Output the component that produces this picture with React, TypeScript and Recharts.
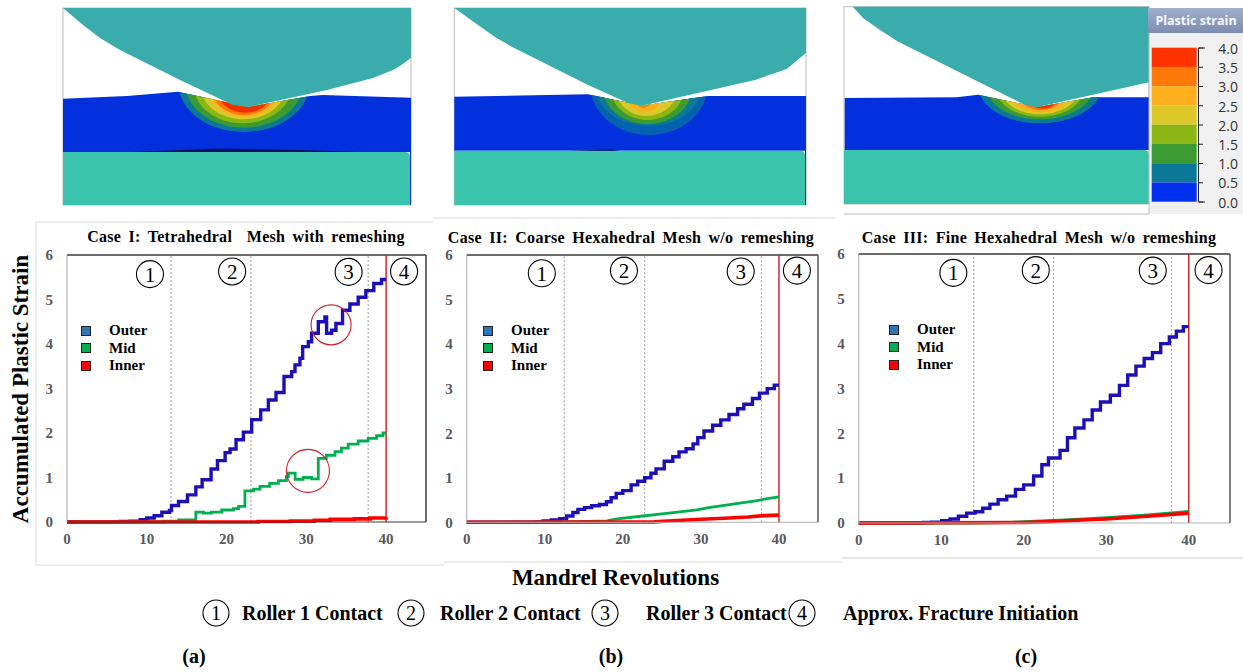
import { LineChart, Line, XAxis, YAxis, ReferenceLine, ReferenceDot, Legend } from "recharts";

const xTicks = [0, 10, 20, 30, 40];
const yTicks = [0, 1, 2, 3, 4, 5, 6];
const seriesNames = ["Outer", "Mid", "Inner"];
const lineColors = ["#1c0fb8", "#00b050", "#fe0000"];
const lineWidths = [3.4, 2.8, 3.6];
const swatchColors = ["#2e75b6", "#00b050", "#ff0000"];
const circleLabels = ["1", "2", "3", "4"];

// case I
const outerAX = [0, 6.67, 7.93, 9.18, 10, 10.93, 11.89, 12.85, 13.1, 13.98, 15.1, 16.15, 16.94, 18.06, 18.86, 19.82, 20.44, 21.19, 22.11, 23.15, 24.28, 25.24, 26.2, 27.2, 28.16, 28.58, 29.2, 29.54, 30.25, 30.66, 31.5, 32.33, 32.54, 33.17, 33.71, 34.54, 35.46, 36.5, 37.46, 38.46, 39.42, 40];
const outerAY = [0, 0.01, 0.02, 0.05, 0.09, 0.14, 0.22, 0.26, 0.37, 0.46, 0.61, 0.79, 0.95, 1.19, 1.38, 1.56, 1.64, 1.85, 2.02, 2.3, 2.52, 2.74, 2.91, 3.27, 3.38, 3.53, 3.68, 3.94, 4.05, 4.24, 4.5, 4.61, 4.24, 4.31, 4.46, 4.76, 4.9, 5.05, 5.2, 5.36, 5.45, 5.45];
const midAX = [0, 11.3, 12, 14, 16.15, 17.1, 18.1, 19.4, 20.86, 21.5, 22.3, 23.4, 24.2, 25.4, 26.5, 27.5, 27.75, 28.6, 29.6, 30.66, 31.5, 32.5, 33.6, 34.4, 35.25, 36.5, 37.75, 38.8, 39.6, 40];
const midAY = [0, 0, 0.02, 0.05, 0.22, 0.2, 0.22, 0.27, 0.3, 0.35, 0.7, 0.74, 0.8, 0.87, 0.93, 1.02, 1.1, 0.96, 1.0, 0.97, 1.43, 1.5, 1.58, 1.66, 1.75, 1.82, 1.88, 1.94, 2.0, 2.0];
const innerAX = [0, 24, 28, 31, 33, 36, 38, 40];
const innerAY = [0, 0.01, 0.02, 0.04, 0.06, 0.07, 0.09, 0.1];

// case II
const outerBX = [0, 8.9, 9.8, 10.85, 11.9, 12.8, 13.6, 14.25, 15.1, 16, 17, 17.9, 18.5, 19.15, 20, 21.06, 21.9, 22.8, 23.6, 24.25, 25.3, 26.4, 27.2, 28.1, 29, 29.6, 30.4, 31.5, 32.55, 33.6, 34.7, 35.5, 36.6, 37.5, 38.5, 39.4, 40];
const outerBY = [0, 0.01, 0.03, 0.05, 0.08, 0.14, 0.22, 0.29, 0.33, 0.37, 0.4, 0.46, 0.55, 0.65, 0.71, 0.84, 0.92, 1.0, 1.1, 1.2, 1.37, 1.47, 1.58, 1.65, 1.76, 1.9, 2.05, 2.18, 2.3, 2.42, 2.55, 2.65, 2.78, 2.9, 3.0, 3.08, 3.08];
const midBX = [0, 13, 18, 19, 22, 25, 27, 29.5, 31, 33, 35, 37, 38.5, 40];
const midBY = [0, 0.01, 0.03, 0.07, 0.13, 0.19, 0.23, 0.28, 0.33, 0.38, 0.43, 0.48, 0.53, 0.57];
const innerBX = [0, 24, 27, 30, 33, 36, 38, 40];
const innerBY = [0, 0.01, 0.04, 0.07, 0.09, 0.12, 0.15, 0.16];

// case III
const outerCX = [0, 7.84, 8.85, 10.06, 11.07, 12.08, 13.09, 14.1, 15.03, 15.9, 16.9, 17.94, 19, 20, 21.2, 22.2, 23, 24.4, 25.3, 26.2, 27.3, 28.3, 29.3, 30.5, 31.6, 32.6, 33.6, 34.6, 35.6, 36.6, 37.65, 38.5, 39.35, 40];
const outerCY = [0, 0.01, 0.02, 0.05, 0.09, 0.15, 0.22, 0.25, 0.33, 0.42, 0.52, 0.6, 0.75, 0.85, 1.05, 1.3, 1.45, 1.62, 1.9, 2.12, 2.3, 2.52, 2.7, 2.85, 3.07, 3.3, 3.5, 3.67, 3.8, 4.0, 4.15, 4.28, 4.38, 4.38];
const midCX = [0, 14, 18, 20, 25, 30, 35, 40];
const midCY = [0, 0, 0.01, 0.03, 0.07, 0.12, 0.18, 0.26];
const innerCX = [0, 20, 23, 25, 30, 35, 40];
const innerCY = [0, 0.01, 0.03, 0.05, 0.09, 0.15, 0.22];

const zip = (xs: number[], ys: number[]) => xs.map((x, i) => ({ x, y: ys[i] }));

const serif = "'Liberation Serif', serif";
const tickStyle = { fontFamily: serif, fontSize: 15, fontWeight: 700, fill: "#595959" };

const panels = [
  {
    title: "Case I: Tetrahedral  Mesh with remeshing", titleX: 246, titleY: 237,
    left: 37, top: 240, plotW: 359, plotH: 267, axisW: 30,
    series: [zip(outerAX, outerAY), zip(midAX, midAY), zip(innerAX, innerAY)],
    stepped: [true, true, true],
    dashes: [13.04, 23.05, 37.75],
    circleX: [10.4, 20.7, 35.3, 42.25], circleY: [5.57, 5.63, 5.62, 5.63],
    legendLeft: 44, frameColor: "#3a3a3a", sideColor: "#3a3a3a",
    rings: [{ x: 33.1, y: 4.43, r: 20 }, { x: 30.2, y: 1.15, r: 21.5 }],
  },
  {
    title: "Case II: Coarse Hexahedral Mesh w/o remeshing", titleX: 631, titleY: 238,
    left: 437, top: 240, plotW: 351.3, plotH: 267.3, axisW: 29.7,
    series: [zip(outerBX, outerBY), zip(midBX, midBY), zip(innerBX, innerBY)],
    stepped: [true, false, false],
    dashes: [12.5, 22.8, 37.75],
    circleX: [9.62, 20.14, 35.1, 42.3], circleY: [5.59, 5.65, 5.63, 5.65],
    legendLeft: 46, frameColor: "#b0b0b0", sideColor: "#555",
    rings: [],
  },
  {
    title: "Case III: Fine Hexahedral Mesh w/o remeshing", titleX: 1039, titleY: 238,
    left: 829, top: 239, plotW: 371.3, plotH: 269, axisW: 29.7,
    series: [zip(outerCX, outerCY), zip(midCX, midCY), zip(innerCX, innerCY)],
    stepped: [true, false, false],
    dashes: [13.95, 23.6, 37.9],
    circleX: [11.47, 21.46, 35.64, 42.4], circleY: [5.58, 5.64, 5.63, 5.64],
    legendLeft: 60, frameColor: "#b0b0b0", sideColor: "#555",
    rings: [],
  },
];

function LegendBox() {
  return (
    <div style={{ fontFamily: serif, fontSize: 15, fontWeight: 700, color: "#000" }}>
      {seriesNames.map((name, i) => (
        <div key={name} style={{ height: 17.6, display: "flex", alignItems: "center" }}>
          <span style={{ width: 8, height: 8, border: "1.5px solid #222", background: swatchColors[i], marginRight: 18 }} />
          <span>{name}</span>
        </div>
      ))}
    </div>
  );
}

function StrainChart({ p }: { p: (typeof panels)[number] }) {
  const marginTop = 15;
  const xAxisH = 30;
  return (
    <div style={{ position: "absolute", left: p.left, top: p.top }}>
      <LineChart
        width={p.axisW + p.plotW + 6}
        height={marginTop + p.plotH + xAxisH}
        margin={{ top: marginTop, right: 6, bottom: 0, left: 0 }}
      >
        <XAxis
          dataKey="x" type="number" domain={[0, 45]} ticks={xTicks} height={xAxisH}
          tick={tickStyle} tickLine={false} tickMargin={11} tickSize={0} stroke={p.frameColor}
        />
        <YAxis
          type="number" domain={[0, 6]} ticks={yTicks} width={p.axisW}
          tick={tickStyle} tickLine={false} tickMargin={14} tickSize={0} stroke="#a6a6a6"
        />
        <ReferenceLine y={6} stroke="#3a3a3a" strokeWidth={1.5} />
        <ReferenceLine x={45} stroke={p.sideColor} strokeWidth={1.5} />
        {p.dashes.map((d) => (
          <ReferenceLine key={d} x={d} stroke="#808080" strokeWidth={0.8} strokeDasharray="2 2" />
        ))}
        <ReferenceLine x={40} stroke="#d5262c" strokeWidth={1.5} />
        {p.series.map((data, i) => (
          <Line
            key={seriesNames[i]} name={seriesNames[i]} data={data} dataKey="y"
            type={p.stepped[i] ? "stepAfter" : "linear"}
            stroke={lineColors[i]} strokeWidth={lineWidths[i]} dot={false} isAnimationActive={false}
          />
        ))}
        {p.circleX.map((cx, i) => (
          <ReferenceDot
            key={circleLabels[i]} x={cx} y={p.circleY[i]} r={13.5} fill="none" stroke="#000" strokeWidth={1.1}
            ifOverflow="visible"
            label={{ value: circleLabels[i], position: "center", fontFamily: serif, fontSize: 21, fill: "#000" }}
          />
        ))}
        {p.rings.map((ring) => (
          <ReferenceDot key={ring.x} x={ring.x} y={ring.y} r={ring.r} fill="none" stroke="#cc2027" strokeWidth={1.1} ifOverflow="visible" />
        ))}
        <Legend
          layout="vertical" align="center" verticalAlign="middle" itemSorter={null}
          wrapperStyle={{ left: p.legendLeft, top: 82, width: 110 }}
          content={<LegendBox />}
        />
      </LineChart>
    </div>
  );
}

// contour band colours of the FE snapshots, low to high
const bandColors = ["#0a7896", "#3c9a32", "#8cb614", "#dcc828", "#ffaf1e", "#ff780a", "#f03000"];
const bandColorsCoarse = ["#0562b0", "#0a7896", "#3c9a32", "#8cb614", "#dcc828", "#ffaf1e", "#ee8a10"];
const scaleColors = ["#ff3200", "#ff780a", "#ffaf1e", "#dcc828", "#8cb614", "#3c9a32", "#0a7896", "#0030f0"];
const scaleLabels = ["4.0", "3.5", "3.0", "2.5", "2.0", "1.5", "1.0", "0.5", "0.0"];

const snapshots = [
  {
    id: "a", x0: 63, x1: 411, y0: 8, y1: 205, mandrelTop: 152, mandrelRight: 410, colors: bandColors,
    roller: "63,8 411,8 411,58 400,66 393,70 373,78 327,90 248,107 233,105 180,80 120,50 100,38 83,25",
    piece: "63,98.7 127,96 178,91.7 248,107 310,96 323,95 411,97.7 411,205 410,205 410,152 63,152",
    bandTop: 88,
    bands: [[178, 310, 132], [185, 303, 127.7], [193, 293, 123.3], [200, 287, 119.3], [207, 282, 116.7], [210, 278, 115], [215, 275, 112.7]],
    lens: "130,152 220,148.5 300,150 360,152",
  },
  {
    id: "b", x0: 454.3, x1: 806, y0: 8, y1: 205, mandrelTop: 150.7, mandrelRight: 805, colors: bandColorsCoarse,
    roller: "454.3,8 806,8 806,53 786.7,69 755,80 641.7,105.7 628,103 588,85 511.7,46.7 495,37 478,25",
    piece: "454.3,96.7 588,94.3 641.7,105.7 708,96 806,96 806,205 805,205 805,150.7 454.3,150.7",
    bandTop: 90,
    bands: [[590, 708, 135], [595, 702, 126], [602, 693, 124], [610, 685, 120], [615, 678, 116], [625, 665, 112], [632, 655, 108]],
    lens: "570,150.7 610,149.5 620,150.7",
  },
  {
    id: "c", x0: 844, x1: 1149, y0: 6.7, y1: 204, mandrelTop: 150, mandrelRight: 1149, colors: bandColors,
    roller: "852.7,6.7 1149,6.7 1149,82.3 1036.7,107.3 1025,105 898.3,41.7 880,30 863.3,18.3",
    piece: "844.7,98 956.7,97.3 978.3,94.7 1036.7,107.3 1093,97.3 1149,97.3 1149,150 844.7,150",
    bandTop: 90,
    bands: [[978, 1102, 123.3], [986, 1094, 119.3], [995, 1085, 116.7], [1000, 1080, 114.3], [1007, 1073, 112.3], [1015, 1067, 110], [1022, 1063, 108.7]],
    lens: "",
  },
];

function Snapshots() {
  return (
    <svg width={1243} height={672} style={{ position: "absolute", left: 0, top: 0 }}>
      {snapshots.map((s) => (
        <g key={s.id}>
          <clipPath id={`piece-${s.id}`}>
            <polygon points={s.piece} />
          </clipPath>
          <rect x={s.x0} y={s.y0} width={s.x1 - s.x0} height={s.y1 - s.y0} fill="#fff" stroke="#bbb" strokeWidth={1} />
          <polygon points={s.piece} fill="#0230dc" />
          <g clipPath={`url(#piece-${s.id})`}>
            {s.bands.map(([a, b, bottom], i) => {
              const w = b - a;
              const c = s.bandTop + (bottom - s.bandTop) / 0.75;
              return (
                <path
                  key={i}
                  d={`M${a} ${s.bandTop} C${a + 0.1 * w} ${c} ${b - 0.1 * w} ${c} ${b} ${s.bandTop} Z`}
                  fill={s.colors[i]}
                />
              );
            })}
          </g>
          <polygon points={s.roller} fill="#3aacac" />
          <path
            d={`M${s.x0} ${s.mandrelTop} H${s.mandrelRight - 5} Q${s.mandrelRight} ${s.mandrelTop} ${s.mandrelRight} ${s.mandrelTop + 5} V${s.y1} H${s.x0} Z`}
            fill="#3ac4ae"
          />
          {s.lens && <polygon points={s.lens} fill="#03145c" />}
        </g>
      ))}
      <rect x={1149} y={33} width={94} height={181} fill="#f0f0f0" />
      <line x1={844} x2={1149} y1={214} y2={214} stroke="#bbb" />
      <line x1={1149} x2={1149} y1={8} y2={214} stroke="#bbb" />
      <defs>
        <linearGradient id="head" x1="0" y1="0" x2="0" y2="1">
          <stop offset="0" stopColor="#a3b0cc" />
          <stop offset="1" stopColor="#7c8cb0" />
        </linearGradient>
      </defs>
      <rect x={1148} y={8} width={95} height={25} fill="url(#head)" />
      <text x={1196} y={25} textAnchor="middle" fontFamily="'Open Sans', sans-serif" fontWeight={700} fontSize={12.5} fill="#f4f6fb">
        Plastic strain
      </text>
      {scaleColors.map((c, i) => (
        <rect key={c} x={1151.7} y={47.7 + i * 19.25} width={45} height={19.25} fill={c} />
      ))}
      <path d="M1205 48 H1198.5 V202 H1205" fill="none" stroke="#222" strokeWidth={1} />
      {scaleLabels.map((l, i) => (
        <g key={l}>
          <line x1={1198.5} x2={1203} y1={48 + i * 19.25} y2={48 + i * 19.25} stroke="#222" />
          <text x={1238} y={54 + i * 19.2} textAnchor="end" fontFamily="'Open Sans', sans-serif" fontSize={14} fill="#333">
            {l}
          </text>
        </g>
      ))}
      {/* frames round the chart panels */}
      <path d="M36 222 V565 H444 M36 222 H433" fill="none" stroke="#dcdcdc" />
      <path d="M433 218 H835 M444 562 H842" fill="none" stroke="#dcdcdc" />
      <path d="M842 558 H1243" fill="none" stroke="#d0d0d0" />
    </svg>
  );
}

const footerCircles = [
  { n: "1", x: 216 }, { n: "2", x: 411 }, { n: "3", x: 605 }, { n: "4", x: 802 },
];
const footerTexts = [
  { t: "Roller 1 Contact", x: 242 }, { t: "Roller 2 Contact", x: 440 },
  { t: "Roller 3 Contact", x: 646 }, { t: "Approx. Fracture Initiation", x: 843 },
];
const subLabels = [{ t: "(a)", x: 194 }, { t: "(b)", x: 611 }, { t: "(c)", x: 1026 }];

function Labels() {
  return (
    <svg width={1243} height={672} style={{ position: "absolute", left: 0, top: 0, pointerEvents: "none" }} fontFamily={serif}>
      {panels.map((p) => (
        <text
          key={p.title} x={p.titleX} y={p.titleY + 5} textAnchor="middle" fontWeight={700} fontSize={16}
          letterSpacing={0.3} wordSpacing={3} style={{ whiteSpace: "pre" }}
        >
          {p.title}
        </text>
      ))}
      <text transform="translate(28 389) rotate(-90)" textAnchor="middle" fontWeight={700} fontSize={23}>
        Accumulated Plastic Strain
      </text>
      <text x={615.5} y={585} textAnchor="middle" fontWeight={700} fontSize={23}>
        Mandrel Revolutions
      </text>
      {footerCircles.map((c) => (
        <g key={c.n}>
          <circle cx={c.x} cy={613} r={13} fill="none" stroke="#000" strokeWidth={1.1} />
          <text x={c.x} y={620} textAnchor="middle" fontSize={20}>{c.n}</text>
        </g>
      ))}
      {footerTexts.map((f) => (
        <text key={f.t} x={f.x} y={620} fontWeight={700} fontSize={20}>{f.t}</text>
      ))}
      {subLabels.map((s) => (
        <text key={s.t} x={s.x} y={663} textAnchor="middle" fontWeight={700} fontSize={20}>{s.t}</text>
      ))}
    </svg>
  );
}

export default function App() {
  return (
    <div style={{ position: "relative", width: 1243, height: 672, background: "#fff", overflow: "hidden" }}>
      <style>{"body{margin:0}"}</style>
      <Snapshots />
      {panels.map((p) => (
        <StrainChart key={p.title} p={p} />
      ))}
      <Labels />
    </div>
  );
}
